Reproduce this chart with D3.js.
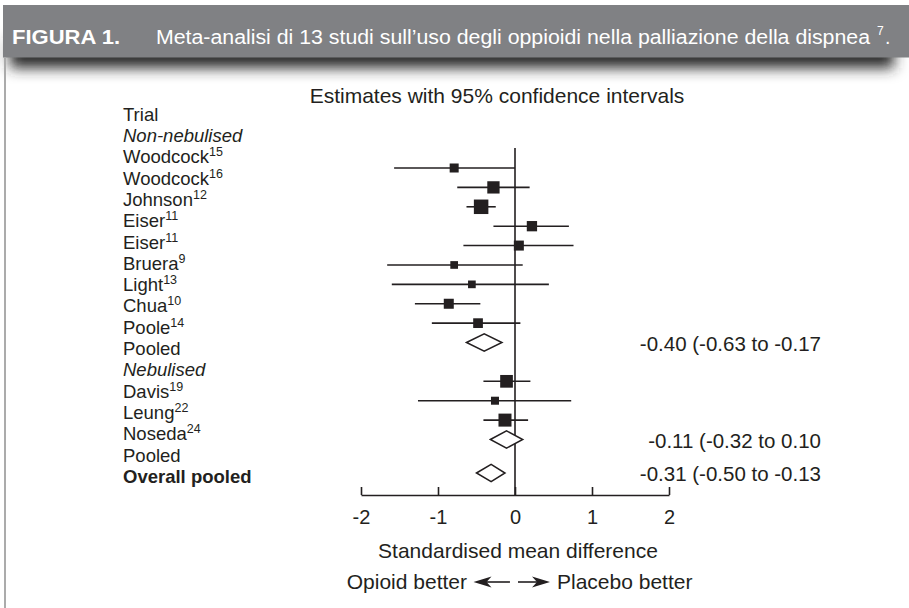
<!DOCTYPE html>
<html>
<head>
<meta charset="utf-8">
<script src="https://cdn.jsdelivr.net/npm/d3@7"></script>
<style>
  html, body { margin: 0; padding: 0; background: #ffffff; }
  svg { display: block; }
  text { font-family: "Liberation Sans", Arial, Helvetica, sans-serif; fill: #231f20; }
</style>
</head>
<body>
<script>
// ---------- data ----------
const figureLabel = "FIGURA 1.";
const figureTitle = "Meta-analisi di 13 studi sull\u2019uso degli oppioidi nella palliazione della dispnea";
const figureRef = "7";
const chartTitle = "Estimates with 95% confidence intervals";
const groups = ["Non-nebulised", "Nebulised"];
const trials = ["Woodcock", "Woodcock", "Johnson", "Eiser", "Eiser", "Bruera", "Light", "Chua", "Poole", "Davis", "Leung", "Noseda"];
const refs = ["15", "16", "12", "11", "11", "9", "13", "10", "14", "19", "22", "24"];
const trialGroup = [0, 0, 0, 0, 0, 0, 0, 0, 0, 1, 1, 1];
const estimate = [-0.79, -0.28, -0.44, 0.22, 0.05, -0.79, -0.56, -0.86, -0.48, -0.11, -0.26, -0.13];
const lower = [-1.57, -0.75, -0.63, -0.28, -0.67, -1.66, -1.60, -1.30, -1.08, -0.41, -1.26, -0.41];
const upper = [0.00, 0.19, -0.25, 0.70, 0.76, 0.10, 0.44, -0.45, 0.07, 0.20, 0.73, 0.17];
const weight = [81, 151, 210, 106, 100, 59, 59, 100, 94, 161, 64, 169];
const pooledLabels = ["Pooled", "Pooled", "Overall pooled"];
const pooledEst = [-0.40, -0.11, -0.31];
const pooledLow = [-0.63, -0.32, -0.50];
const pooledHigh = [-0.17, 0.10, -0.13];
const xTicks = [-2, -1, 0, 1, 2];
const axisLabel = "Standardised mean difference";
const leftNote = "Opioid better";
const rightNote = "Placebo better";

// ---------- layout ----------
const W = 909, H = 608;
const ink = "#231f20";
const svg = d3.select("body").append("svg").attr("width", W).attr("height", H);

// header shadow + bar
const defs = svg.append("defs");
defs.append("filter").attr("id", "sh").attr("x", "-10%").attr("y", "-100%").attr("width", "120%").attr("height", "300%")
  .append("feGaussianBlur").attr("stdDeviation", 7);
svg.append("rect").attr("x", 10).attr("y", 38).attr("width", 884).attr("height", 30)
  .attr("fill", "#2a2a2a").attr("filter", "url(#sh)");
svg.append("rect").attr("x", 0).attr("y", 0).attr("width", W).attr("height", 5).attr("fill", "#fff");
svg.append("rect").attr("x", 3).attr("y", 5).attr("width", W - 3).attr("height", 52.5).attr("fill", "#808184");
// left panel border
svg.append("rect").attr("x", 4).attr("y", 57.5).attr("width", 2).attr("height", H - 57.5).attr("fill", "#ababab");

const hfont = "'Liberation Sans Narrow', 'DejaVu Sans Condensed', 'Arial Narrow', sans-serif";
svg.append("text").attr("x", 12).attr("y", 44).attr("font-family", hfont).attr("font-weight", "bold")
  .attr("font-size", 19.5).style("fill", "#fff").attr("textLength", 108).attr("lengthAdjust", "spacingAndGlyphs")
  .text(figureLabel);
svg.append("text").attr("x", 156).attr("y", 44).attr("font-family", hfont)
  .attr("font-size", 19.5).style("fill", "#fff").attr("textLength", 714).attr("lengthAdjust", "spacingAndGlyphs")
  .text(figureTitle);
svg.append("text").attr("x", 877).attr("y", 35).attr("font-family", hfont)
  .attr("font-size", 12).style("fill", "#fff").text(figureRef);
svg.append("text").attr("x", 885).attr("y", 44).attr("font-family", hfont)
  .attr("font-size", 19.5).style("fill", "#fff").text(".");

// scales
const x = d3.scaleLinear().domain([-2, 2]).range([361, 669]);
const labelY = row => 120.7 + 21.3 * row;            // baseline of left labels
const markY = d3.scaleLinear().domain([2, 16]).range([168, 439.5]);
const overallY = markY(16) + 33.5;
const size = d3.scaleSqrt().domain([0, d3.max(weight)]).range([0, 14.5]);
const axisY = 495;

// chart title
svg.append("text").attr("x", 497).attr("y", 103).attr("text-anchor", "middle")
  .attr("font-size", 21).text(chartTitle);

// build left label rows
const rows = [{ name: "Trial" }];
const markerRow = [];
let r = 1;
groups.forEach((g, gi) => {
  rows.push({ name: g, italic: true }); r++;
  trials.forEach((t, i) => {
    if (trialGroup[i] === gi) { rows.push({ name: t, sup: refs[i] }); markerRow[i] = r; r++; }
  });
  rows.push({ name: pooledLabels[gi] }); r++;
});
rows.push({ name: pooledLabels[2], bold: true });
const pooledRow = [];
rows.forEach((d, i) => { if (d.name === "Pooled") pooledRow.push(i); });

const lab = svg.append("g").selectAll("text").data(rows).join("text")
  .attr("x", 123).attr("y", (d, i) => labelY(i))
  .attr("font-size", 18.5)
  .attr("font-style", d => d.italic ? "italic" : null)
  .attr("font-weight", d => d.bold ? "bold" : null);
lab.append("tspan").text(d => d.name);
lab.filter(d => d.sup).append("tspan").attr("font-size", 12.5).attr("dy", -7).text(d => d.sup);

// zero line
svg.append("line").attr("x1", x(0)).attr("x2", x(0)).attr("y1", 148).attr("y2", axisY)
  .attr("stroke", ink).attr("stroke-width", 1.6);

// CI lines & squares
const tg = svg.append("g");
trials.forEach((t, i) => {
  const y = markY(markerRow[i]);
  tg.append("line").attr("x1", x(lower[i])).attr("x2", x(upper[i])).attr("y1", y).attr("y2", y)
    .attr("stroke", ink).attr("stroke-width", 1.6);
  const s = size(weight[i]);
  tg.append("rect").attr("x", x(estimate[i]) - s / 2).attr("y", y - s / 2).attr("width", s).attr("height", s)
    .attr("fill", ink);
});

// diamonds + summary text
const fmt = v => v.toFixed(2);
const dY = [markY(pooledRow[0]), markY(pooledRow[1]), overallY];
pooledEst.forEach((e, i) => {
  const y = dY[i], h = 8.6;
  const p = `M${x(pooledLow[i])},${y}L${x(e)},${y - h}L${x(pooledHigh[i])},${y}L${x(e)},${y + h}Z`;
  svg.append("path").attr("d", p).attr("fill", "#fff").attr("stroke", ink).attr("stroke-width", 1.5);
  svg.append("text").attr("x", 821).attr("y", y + 8).attr("text-anchor", "end").attr("font-size", 20.5)
    .text(`${fmt(e)} (${fmt(pooledLow[i])} to ${fmt(pooledHigh[i])}`);
});

// axis
const axis = d3.axisBottom(x).tickValues(xTicks).tickFormat(d => String(d))
  .tickSizeInner(-8).tickSizeOuter(0).tickPadding(14.5);
const ag = svg.append("g").attr("transform", `translate(0,${axisY})`).call(axis);
ag.select(".domain").attr("stroke", ink).attr("stroke-width", 1.6);
ag.selectAll(".tick line").attr("stroke", ink).attr("stroke-width", 1.6);
ag.selectAll(".tick text").attr("font-size", 20).attr("font-family", null).style("fill", ink);
ag.attr("font-family", null);

// axis label
svg.append("text").attr("x", 518).attr("y", 558).attr("text-anchor", "middle").attr("font-size", 21).text(axisLabel);

// direction notes with arrows
const x0 = x(0), ay = 582;
svg.append("text").attr("x", x0 - 48).attr("y", 588.5).attr("text-anchor", "end").attr("font-size", 21).text(leftNote);
svg.append("text").attr("x", x0 + 42).attr("y", 588.5).attr("font-size", 21).text(rightNote);
function arrow(tipX, dir, tailX) {
  const L = 18, hw = 5.5, notch = 5;
  svg.append("line").attr("x1", tipX + dir * 10).attr("x2", tailX).attr("y1", ay).attr("y2", ay)
    .attr("stroke", ink).attr("stroke-width", 1.6);
  svg.append("path")
    .attr("d", `M${tipX},${ay}L${tipX + dir * L},${ay - hw}L${tipX + dir * (L - notch)},${ay}L${tipX + dir * L},${ay + hw}Z`)
    .attr("fill", ink);
}
arrow(x0 - 41.5, 1, x0 - 5);
arrow(x0 + 35, -1, x0 + 3);
</script>
</body>
</html>
